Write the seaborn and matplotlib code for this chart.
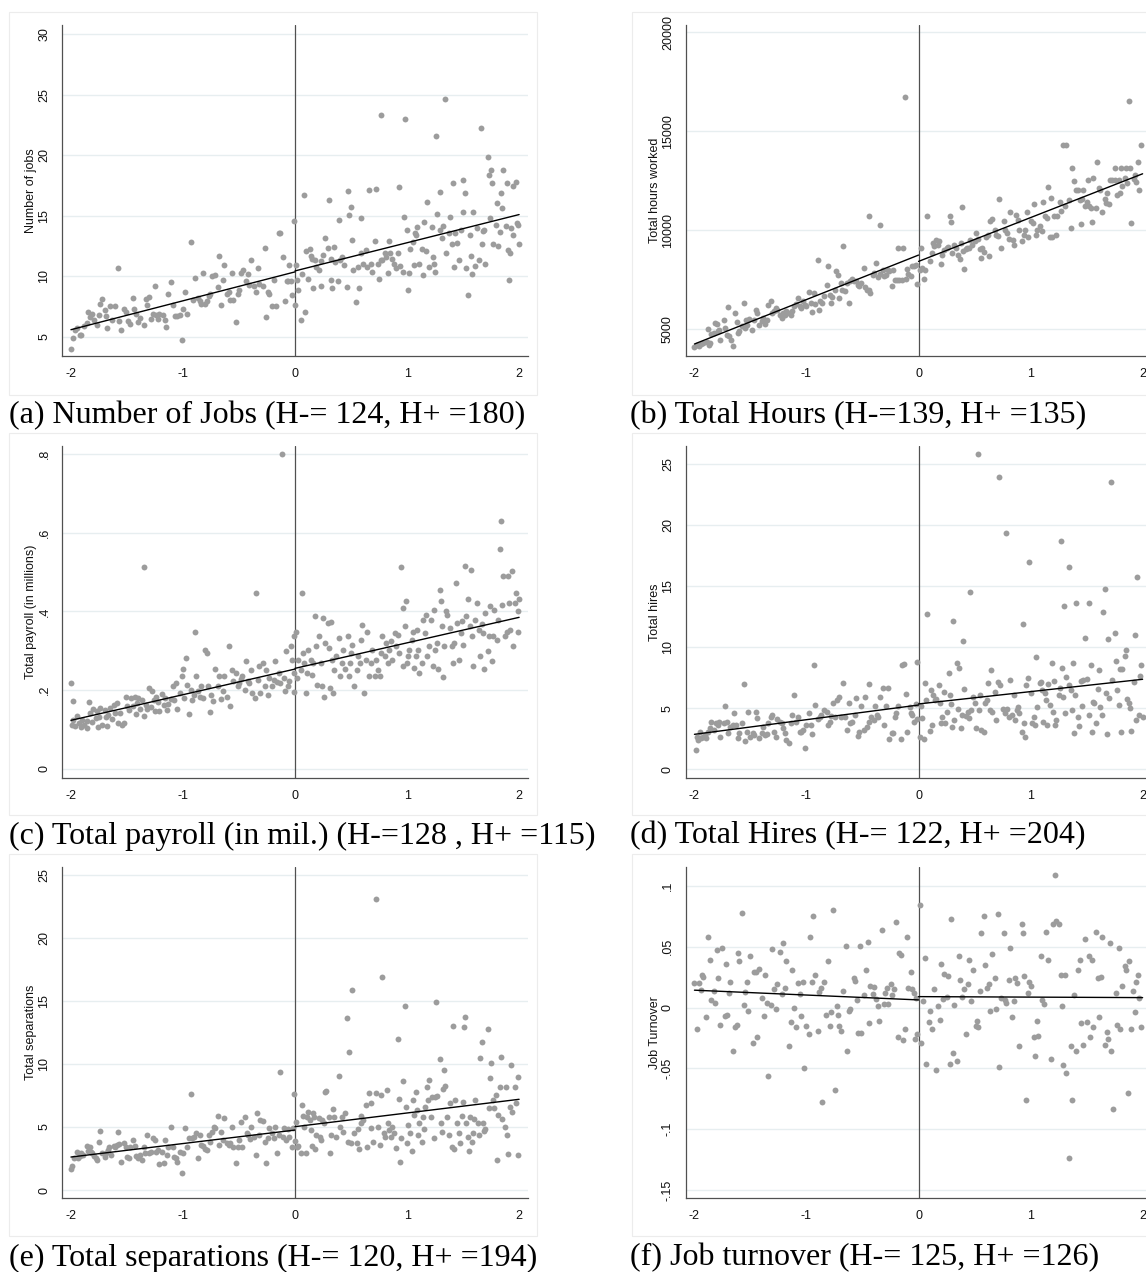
import matplotlib
matplotlib.use("Agg")
import matplotlib.pyplot as plt
from matplotlib.patches import Rectangle
import pandas as pd
import seaborn as sns

# ---------------------------------------------------------------- data
X_TICKS = [-2, -1, 0, 1, 2]
X_TICK_LABELS = ["-2", "-1", "0", "1", "2"]

# (a) Number of jobs: binned means by distance to the threshold
A_PTS = [
    (-2.00, 4.04), (-1.98, 4.95), (-1.96, 5.55), (-1.95, 5.77), (-1.92, 5.14), (-1.91, 5.19), (-1.88, 5.88),
    (-1.86, 6.16), (-1.85, 7.07), (-1.83, 6.65), (-1.81, 6.93), (-1.79, 6.38), (-1.77, 5.96), (-1.75, 6.79),
    (-1.74, 7.75), (-1.72, 8.17), (-1.70, 7.20), (-1.69, 6.71), (-1.68, 5.74), (-1.65, 7.53), (-1.63, 6.38),
    (-1.61, 7.53), (-1.58, 10.65), (-1.57, 6.32), (-1.55, 5.60), (-1.53, 7.34), (-1.51, 7.07), (-1.49, 6.30),
    (-1.47, 6.10), (-1.45, 8.22), (-1.44, 7.34), (-1.42, 6.93), (-1.40, 6.24), (-1.38, 6.60), (-1.35, 5.96),
    (-1.33, 8.17), (-1.32, 7.67), (-1.30, 8.30), (-1.29, 6.52), (-1.27, 6.87), (-1.25, 9.21), (-1.24, 6.79),
    (-1.22, 6.52), (-1.21, 6.93), (-1.18, 6.79), (-1.16, 6.38), (-1.15, 5.83), (-1.13, 8.53), (-1.11, 9.52),
    (-1.09, 7.62), (-1.07, 6.74), (-1.05, 6.74), (-1.03, 6.79), (-1.01, 4.78), (-1.00, 7.34), (-0.98, 8.72),
    (-0.96, 6.93), (-0.93, 12.85), (-0.91, 8.09), (-0.89, 9.88), (-0.87, 8.22), (-0.85, 7.95), (-0.84, 7.75),
    (-0.82, 10.29), (-0.80, 7.75), (-0.79, 7.95), (-0.77, 8.36), (-0.76, 8.58), (-0.74, 10.04), (-0.71, 10.15),
    (-0.69, 9.13), (-0.68, 11.67), (-0.66, 7.62), (-0.64, 9.74), (-0.63, 10.92), (-0.61, 8.58), (-0.59, 8.69),
    (-0.58, 8.03), (-0.56, 10.29), (-0.55, 8.03), (-0.53, 6.24), (-0.51, 8.58), (-0.50, 8.91), (-0.48, 10.29),
    (-0.46, 10.51), (-0.44, 9.60), (-0.42, 10.23), (-0.41, 9.27), (-0.39, 11.34), (-0.37, 9.19), (-0.35, 8.72),
    (-0.33, 10.70), (-0.32, 9.41), (-0.29, 9.19), (-0.27, 12.38), (-0.26, 6.65), (-0.24, 8.72), (-0.23, 8.53),
    (-0.21, 7.53), (-0.19, 9.68), (-0.17, 7.53), (-0.14, 13.60), (-0.13, 13.54), (-0.11, 11.56), (-0.09, 7.95),
    (-0.07, 9.63), (-0.06, 9.60), (-0.05, 10.92), (-0.04, 9.60), (-0.03, 8.44), (-0.01, 14.59),
    (0.00, 7.67), (0.01, 10.92), (0.02, 9.74), (0.03, 8.86), (0.05, 6.43), (0.06, 10.23), (0.08, 16.71),
    (0.09, 7.07), (0.10, 12.11), (0.12, 9.82), (0.13, 12.22), (0.14, 11.67), (0.15, 11.47), (0.16, 9.00),
    (0.18, 11.34), (0.19, 10.79), (0.21, 10.51), (0.23, 9.19), (0.23, 11.28), (0.25, 11.75), (0.27, 13.13),
    (0.29, 12.30), (0.30, 16.29), (0.32, 11.47), (0.32, 9.74), (0.33, 9.00), (0.35, 12.44), (0.36, 11.20),
    (0.38, 9.63), (0.39, 14.64), (0.40, 11.34), (0.42, 11.61), (0.44, 10.92), (0.46, 9.13), (0.47, 17.07),
    (0.48, 15.06), (0.50, 15.69), (0.51, 12.99), (0.52, 10.56), (0.54, 7.89), (0.56, 10.79), (0.57, 9.08),
    (0.59, 11.89), (0.59, 14.78), (0.61, 11.06), (0.63, 12.16), (0.64, 10.79), (0.66, 17.12), (0.68, 11.06),
    (0.69, 10.37), (0.71, 12.93), (0.72, 17.18), (0.74, 11.06), (0.75, 9.82), (0.77, 11.34), (0.77, 23.32),
    (0.78, 11.34), (0.80, 11.89), (0.81, 11.61), (0.83, 10.29), (0.84, 12.91), (0.85, 11.89), (0.87, 11.47),
    (0.88, 11.06), (0.90, 10.65), (0.92, 11.89), (0.93, 17.40), (0.94, 10.84), (0.96, 10.37), (0.97, 14.92),
    (0.98, 22.96), (1.00, 13.82), (1.01, 8.86), (1.02, 10.29), (1.03, 12.22), (1.05, 12.85), (1.06, 10.92),
    (1.07, 13.54), (1.08, 13.40), (1.09, 14.09), (1.11, 11.06), (1.13, 12.25), (1.14, 10.15), (1.15, 14.50),
    (1.17, 12.08), (1.18, 16.10), (1.20, 10.79), (1.22, 14.09), (1.23, 11.61), (1.24, 11.06), (1.25, 10.37),
    (1.26, 21.58), (1.27, 15.14), (1.29, 13.82), (1.29, 16.93), (1.31, 13.13), (1.32, 14.15), (1.34, 24.61),
    (1.35, 11.89), (1.37, 13.54), (1.38, 14.92), (1.40, 12.71), (1.41, 17.73), (1.42, 10.79), (1.43, 13.60),
    (1.45, 12.77), (1.46, 11.34), (1.48, 13.82), (1.50, 17.95), (1.50, 15.33), (1.52, 16.85), (1.53, 10.65),
    (1.54, 8.44), (1.56, 13.40), (1.57, 11.67), (1.58, 10.23), (1.59, 15.33), (1.61, 10.84), (1.62, 13.95),
    (1.64, 11.39), (1.66, 22.22), (1.67, 12.71), (1.68, 13.76), (1.69, 13.82), (1.70, 11.06), (1.72, 19.88),
    (1.73, 18.36), (1.74, 14.78), (1.75, 18.77), (1.76, 17.67), (1.77, 12.71), (1.79, 14.23), (1.80, 16.07),
    (1.81, 12.49), (1.83, 13.68), (1.84, 16.85), (1.85, 15.61), (1.86, 18.77), (1.88, 14.15), (1.89, 17.73),
    (1.90, 12.16), (1.91, 9.74), (1.92, 11.89), (1.93, 13.95), (1.95, 17.45), (1.95, 13.40), (1.97, 17.81),
    (1.98, 14.42), (1.99, 14.23), (2.00, 12.71),
]
A_FIT_LEFT = [5.60, 10.37]
A_FIT_RIGHT = [10.45, 15.10]
A_YTICKS = [5, 10, 15, 20, 25, 30]
A_YTICK_LABELS = ["5", "10", "15", "20", "25", "30"]

# (b) Total hours worked
B_PTS = [
    (-2.00, 4090), (-1.98, 4210), (-1.96, 4120), (-1.94, 4260), (-1.92, 4290), (-1.89, 4330), (-1.87, 4210),
    (-1.86, 4290), (-1.88, 5020), (-1.85, 4760), (-1.83, 4800), (-1.82, 5300), (-1.80, 5270), (-1.79, 4880),
    (-1.78, 4970), (-1.77, 4460), (-1.74, 5440), (-1.73, 5050), (-1.71, 4710), (-1.70, 6110), (-1.69, 4660),
    (-1.67, 4460), (-1.66, 4120), (-1.64, 5810), (-1.62, 5340), (-1.61, 4800), (-1.60, 4880), (-1.58, 5140),
    (-1.56, 6320), (-1.55, 5050), (-1.54, 5470), (-1.53, 5220), (-1.51, 5510), (-1.49, 4970), (-1.47, 5440),
    (-1.45, 5980), (-1.44, 5810), (-1.42, 5220), (-1.40, 5390), (-1.39, 5560), (-1.37, 5270), (-1.35, 5470),
    (-1.34, 6230), (-1.32, 6400), (-1.31, 5810), (-1.29, 5890), (-1.27, 6060), (-1.26, 5980), (-1.24, 5730),
    (-1.22, 5560), (-1.21, 5810), (-1.19, 5730), (-1.18, 5890), (-1.16, 5810), (-1.14, 5730), (-1.13, 5890),
    (-1.11, 6150), (-1.09, 6280), (-1.08, 6570), (-1.06, 6150), (-1.05, 6060), (-1.03, 6400), (-1.01, 6230),
    (-1.00, 6150), (-0.98, 6860), (-0.96, 6320), (-0.95, 5840), (-0.93, 6820), (-0.92, 6270), (-0.90, 8510),
    (-0.89, 5980), (-0.88, 6400), (-0.86, 6320), (-0.84, 6650), (-0.82, 7240), (-0.81, 8170), (-0.79, 6740),
    (-0.78, 6320), (-0.77, 6620), (-0.75, 6960), (-0.74, 7920), (-0.72, 7750), (-0.71, 6570), (-0.69, 7330),
    (-0.68, 6990), (-0.67, 9180), (-0.66, 6910), (-0.64, 7330), (-0.62, 6320), (-0.61, 7410), (-0.59, 7530),
    (-0.58, 7410), (-0.56, 7410), (-0.54, 7240), (-0.53, 7160), (-0.51, 7330), (-0.49, 8090), (-0.48, 7120),
    (-0.46, 6990), (-0.44, 6990), (-0.44, 10730), (-0.43, 6820), (-0.41, 7750), (-0.40, 7830), (-0.38, 8340),
    (-0.36, 7630), (-0.34, 7800), (-0.34, 10280), (-0.32, 7970), (-0.31, 7700), (-0.29, 7750), (-0.27, 7970),
    (-0.26, 7920), (-0.24, 7190), (-0.23, 8000), (-0.21, 7460), (-0.19, 7500), (-0.18, 9100), (-0.17, 7460),
    (-0.15, 7500), (-0.14, 9100), (-0.12, 16720), (-0.11, 7530), (-0.10, 8040), (-0.09, 7800), (-0.07, 7700),
    (-0.06, 8170), (-0.04, 8200), (-0.02, 8250), (-0.01, 7290),
    (0.01, 7970), (0.02, 9100), (0.03, 8090), (0.05, 7530), (0.06, 8000), (0.08, 10700), (0.10, 8420),
    (0.12, 8840), (0.13, 9350), (0.14, 9180), (0.16, 9490), (0.17, 9270), (0.18, 9430), (0.20, 8310),
    (0.21, 8760), (0.23, 9010), (0.25, 9100), (0.26, 9150), (0.28, 10700), (0.29, 10400), (0.30, 8840),
    (0.32, 9270), (0.33, 9100), (0.35, 8760), (0.37, 8540), (0.38, 9350), (0.39, 11170), (0.40, 8930),
    (0.41, 8040), (0.42, 9050), (0.43, 9100), (0.45, 9100), (0.46, 9520), (0.48, 9270), (0.50, 9430),
    (0.51, 9860), (0.53, 9550), (0.55, 9050), (0.56, 8590), (0.57, 9100), (0.58, 8880), (0.60, 9650),
    (0.62, 9770), (0.63, 8680), (0.64, 10450), (0.66, 10560), (0.68, 10020), (0.69, 9770), (0.71, 9690),
    (0.72, 11580), (0.74, 9100), (0.76, 10450), (0.77, 10020), (0.79, 9860), (0.81, 9550), (0.82, 10900),
    (0.84, 9520), (0.85, 9270), (0.87, 10780), (0.89, 10530), (0.90, 10020), (0.92, 9430), (0.94, 9770),
    (0.95, 10020), (0.97, 10900), (0.98, 9650), (1.00, 10450), (1.02, 10360), (1.03, 11340), (1.05, 9770),
    (1.06, 10020), (1.08, 10190), (1.10, 9940), (1.11, 11410), (1.13, 10700), (1.15, 10610), (1.16, 12170),
    (1.17, 9650), (1.18, 11630), (1.19, 9650), (1.21, 10730), (1.23, 9770), (1.24, 10700), (1.26, 11410),
    (1.27, 10950), (1.29, 14320), (1.31, 11210), (1.32, 14320), (1.34, 11540), (1.36, 10110), (1.37, 13140),
    (1.39, 12470), (1.41, 12010), (1.42, 12010), (1.44, 11540), (1.45, 10330), (1.46, 11580), (1.47, 12010),
    (1.49, 11210), (1.50, 11410), (1.51, 12550), (1.52, 11210), (1.54, 11120), (1.55, 10400), (1.56, 12640),
    (1.58, 11120), (1.59, 13430), (1.61, 12130), (1.62, 12050), (1.64, 10900), (1.66, 11580), (1.67, 11370),
    (1.68, 11880), (1.70, 11340), (1.71, 12550), (1.73, 12520), (1.75, 13140), (1.75, 12550), (1.77, 11800),
    (1.79, 12550), (1.80, 11880), (1.81, 13140), (1.82, 12220), (1.84, 12640), (1.85, 13140), (1.86, 12390),
    (1.88, 16520), (1.89, 13140), (1.90, 10360), (1.92, 12590), (1.93, 12810), (1.94, 12420), (1.96, 13430),
    (1.97, 12010), (1.99, 14320),
]
B_FIT_LEFT = [4242, 8738]
B_FIT_RIGHT = [8418, 12848]
B_YTICKS = [5000, 10000, 15000, 20000]
B_YTICK_LABELS = ["5000", "10000", "15000", "20000"]

# (c) Total payroll, millions
C_PTS = [
    (-2.00, 0.218), (-1.98, 0.172), (-1.99, 0.112), (-1.98, 0.125), (-1.96, 0.110), (-1.95, 0.134),
    (-1.93, 0.117), (-1.91, 0.106), (-1.90, 0.125), (-1.88, 0.112), (-1.86, 0.104), (-1.86, 0.121),
    (-1.84, 0.169), (-1.83, 0.142), (-1.81, 0.119), (-1.80, 0.152), (-1.78, 0.129), (-1.77, 0.148),
    (-1.76, 0.106), (-1.75, 0.131), (-1.74, 0.155), (-1.72, 0.112), (-1.70, 0.150), (-1.69, 0.131),
    (-1.68, 0.108), (-1.67, 0.138), (-1.65, 0.155), (-1.63, 0.127), (-1.62, 0.163), (-1.61, 0.142),
    (-1.59, 0.167), (-1.58, 0.117), (-1.56, 0.142), (-1.54, 0.112), (-1.53, 0.117), (-1.51, 0.182),
    (-1.50, 0.161), (-1.48, 0.150), (-1.46, 0.180), (-1.45, 0.159), (-1.43, 0.184), (-1.42, 0.140),
    (-1.41, 0.167), (-1.40, 0.180), (-1.38, 0.152), (-1.37, 0.176), (-1.35, 0.512), (-1.35, 0.135),
    (-1.33, 0.163), (-1.32, 0.152), (-1.30, 0.205), (-1.29, 0.157), (-1.28, 0.197), (-1.26, 0.174),
    (-1.25, 0.146), (-1.24, 0.184), (-1.22, 0.169), (-1.21, 0.146), (-1.19, 0.191), (-1.17, 0.163),
    (-1.16, 0.180), (-1.14, 0.150), (-1.13, 0.165), (-1.11, 0.178), (-1.09, 0.210), (-1.08, 0.174),
    (-1.06, 0.218), (-1.05, 0.152), (-1.03, 0.193), (-1.01, 0.235), (-1.00, 0.255), (-0.99, 0.180),
    (-0.97, 0.283), (-0.96, 0.214), (-0.95, 0.140), (-0.93, 0.201), (-0.92, 0.174), (-0.90, 0.189),
    (-0.89, 0.347), (-0.88, 0.235), (-0.87, 0.197), (-0.85, 0.184), (-0.84, 0.210), (-0.82, 0.180),
    (-0.80, 0.303), (-0.79, 0.294), (-0.78, 0.210), (-0.76, 0.144), (-0.75, 0.189), (-0.73, 0.172),
    (-0.71, 0.255), (-0.69, 0.210), (-0.68, 0.235), (-0.66, 0.178), (-0.64, 0.197), (-0.63, 0.235),
    (-0.61, 0.184), (-0.59, 0.313), (-0.58, 0.159), (-0.56, 0.252), (-0.55, 0.223), (-0.53, 0.244),
    (-0.51, 0.210), (-0.50, 0.218), (-0.48, 0.228), (-0.47, 0.235), (-0.45, 0.201), (-0.44, 0.275),
    (-0.42, 0.223), (-0.41, 0.218), (-0.39, 0.252), (-0.38, 0.193), (-0.36, 0.180), (-0.35, 0.447),
    (-0.33, 0.227), (-0.32, 0.261), (-0.31, 0.193), (-0.29, 0.269), (-0.27, 0.210), (-0.26, 0.252),
    (-0.24, 0.189), (-0.23, 0.231), (-0.21, 0.210), (-0.19, 0.227), (-0.18, 0.273), (-0.16, 0.220),
    (-0.14, 0.244), (-0.13, 0.218), (-0.12, 0.800), (-0.10, 0.231), (-0.09, 0.197), (-0.08, 0.299),
    (-0.06, 0.210), (-0.05, 0.223), (-0.04, 0.311), (-0.03, 0.277), (-0.01, 0.195), (-0.01, 0.244),
    (-0.01, 0.337),
    (0.01, 0.347), (0.02, 0.231), (0.03, 0.277), (0.05, 0.252), (0.06, 0.448), (0.07, 0.294), (0.08, 0.269),
    (0.10, 0.193), (0.11, 0.244), (0.12, 0.303), (0.14, 0.277), (0.15, 0.239), (0.16, 0.269), (0.18, 0.389),
    (0.19, 0.313), (0.20, 0.214), (0.21, 0.337), (0.23, 0.269), (0.24, 0.210), (0.25, 0.383), (0.26, 0.184),
    (0.27, 0.320), (0.29, 0.371), (0.30, 0.307), (0.31, 0.206), (0.32, 0.372), (0.33, 0.277), (0.34, 0.193),
    (0.35, 0.252), (0.37, 0.286), (0.39, 0.332), (0.40, 0.235), (0.42, 0.269), (0.43, 0.303), (0.45, 0.254),
    (0.47, 0.337), (0.48, 0.235), (0.49, 0.269), (0.50, 0.294), (0.51, 0.316), (0.53, 0.210), (0.55, 0.252),
    (0.56, 0.286), (0.58, 0.269), (0.59, 0.328), (0.60, 0.366), (0.62, 0.193), (0.63, 0.277), (0.64, 0.349),
    (0.66, 0.235), (0.68, 0.269), (0.69, 0.303), (0.71, 0.235), (0.72, 0.277), (0.74, 0.252), (0.76, 0.235),
    (0.77, 0.294), (0.78, 0.337), (0.80, 0.286), (0.81, 0.320), (0.83, 0.269), (0.84, 0.303), (0.86, 0.324),
    (0.87, 0.277), (0.89, 0.344), (0.90, 0.311), (0.92, 0.341), (0.93, 0.294), (0.95, 0.512), (0.96, 0.409),
    (0.96, 0.261), (0.98, 0.362), (0.99, 0.426), (1.00, 0.269), (1.01, 0.286), (1.02, 0.303), (1.04, 0.328),
    (1.05, 0.349), (1.06, 0.256), (1.08, 0.286), (1.09, 0.354), (1.10, 0.303), (1.11, 0.244), (1.13, 0.269),
    (1.14, 0.379), (1.16, 0.345), (1.17, 0.392), (1.18, 0.286), (1.20, 0.311), (1.21, 0.379), (1.23, 0.261),
    (1.24, 0.404), (1.25, 0.303), (1.27, 0.320), (1.28, 0.254), (1.29, 0.455), (1.30, 0.426), (1.31, 0.362),
    (1.32, 0.233), (1.33, 0.311), (1.35, 0.400), (1.36, 0.392), (1.38, 0.358), (1.40, 0.311), (1.41, 0.269),
    (1.42, 0.320), (1.44, 0.472), (1.45, 0.371), (1.46, 0.277), (1.48, 0.345), (1.49, 0.375), (1.50, 0.316),
    (1.52, 0.516), (1.53, 0.388), (1.54, 0.431), (1.56, 0.362), (1.57, 0.506), (1.58, 0.337), (1.59, 0.261),
    (1.61, 0.379), (1.62, 0.421), (1.64, 0.354), (1.65, 0.286), (1.67, 0.367), (1.68, 0.345), (1.69, 0.254),
    (1.70, 0.396), (1.72, 0.299), (1.73, 0.337), (1.74, 0.413), (1.76, 0.273), (1.77, 0.337), (1.78, 0.404),
    (1.80, 0.328), (1.81, 0.379), (1.83, 0.558), (1.84, 0.630), (1.85, 0.417), (1.86, 0.489), (1.87, 0.337),
    (1.89, 0.349), (1.90, 0.489), (1.91, 0.421), (1.92, 0.354), (1.94, 0.502), (1.95, 0.311), (1.96, 0.421),
    (1.97, 0.447), (1.99, 0.400), (1.99, 0.349), (2.00, 0.431),
]
C_FIT_LEFT = [0.1235, 0.2537]
C_FIT_RIGHT = [0.2555, 0.3850]
C_YTICKS = [0, 0.2, 0.4, 0.6, 0.8]
C_YTICK_LABELS = ["0", ".2", ".4", ".6", ".8"]

# (d) Total hires
D_PTS = [
    (-1.99, 1.58), (-1.98, 2.68), (-1.97, 2.40), (-1.95, 3.09), (-1.94, 2.54), (-1.92, 2.68), (-1.91, 2.81),
    (-1.90, 2.54), (-1.88, 3.09), (-1.86, 3.36), (-1.85, 3.91), (-1.83, 3.22), (-1.81, 3.77), (-1.79, 3.63),
    (-1.78, 3.91), (-1.77, 2.68), (-1.74, 3.77), (-1.73, 5.19), (-1.71, 3.91), (-1.70, 3.01), (-1.68, 3.50),
    (-1.66, 3.63), (-1.65, 4.59), (-1.63, 3.63), (-1.61, 2.54), (-1.60, 2.95), (-1.58, 3.77), (-1.56, 6.97),
    (-1.55, 2.35), (-1.53, 3.09), (-1.52, 4.73), (-1.50, 2.68), (-1.48, 2.95), (-1.47, 2.81), (-1.45, 4.73),
    (-1.44, 4.18), (-1.42, 2.54), (-1.40, 2.95), (-1.39, 3.50), (-1.37, 2.81), (-1.35, 2.90), (-1.34, 3.77),
    (-1.32, 4.26), (-1.31, 4.45), (-1.29, 3.09), (-1.27, 2.68), (-1.26, 4.10), (-1.24, 3.91), (-1.22, 3.77),
    (-1.21, 3.36), (-1.19, 2.95), (-1.18, 2.40), (-1.16, 2.19), (-1.14, 3.77), (-1.13, 4.45), (-1.11, 6.09),
    (-1.09, 3.91), (-1.08, 4.26), (-1.06, 3.09), (-1.05, 3.09), (-1.03, 3.22), (-1.01, 1.72), (-1.00, 3.63),
    (-0.98, 4.59), (-0.96, 3.63), (-0.95, 2.90), (-0.93, 8.55), (-0.92, 5.27), (-0.90, 4.10), (-0.88, 4.32),
    (-0.87, 4.45), (-0.84, 4.86), (-0.82, 4.73), (-0.81, 3.63), (-0.79, 3.91), (-0.78, 4.37), (-0.76, 5.41),
    (-0.75, 4.32), (-0.73, 5.68), (-0.71, 5.96), (-0.69, 4.32), (-0.67, 7.10), (-0.66, 4.32), (-0.64, 3.22),
    (-0.62, 5.41), (-0.61, 3.77), (-0.59, 3.91), (-0.57, 4.45), (-0.56, 5.82), (-0.54, 2.73), (-0.53, 3.09),
    (-0.51, 5.19), (-0.49, 3.22), (-0.48, 5.96), (-0.46, 3.50), (-0.44, 3.91), (-0.44, 7.00), (-0.42, 4.32),
    (-0.40, 4.04), (-0.39, 5.19), (-0.37, 4.45), (-0.36, 4.26), (-0.34, 5.96), (-0.32, 6.64), (-0.31, 3.63),
    (-0.29, 5.19), (-0.27, 6.64), (-0.26, 2.46), (-0.24, 2.95), (-0.23, 2.95), (-0.21, 4.26), (-0.20, 4.59),
    (-0.18, 5.19), (-0.16, 2.46), (-0.15, 8.55), (-0.13, 8.63), (-0.11, 6.17), (-0.10, 3.09), (-0.08, 5.14),
    (-0.07, 4.64), (-0.06, 4.45), (-0.04, 3.91), (-0.02, 5.36), (-0.01, 8.83), (-0.01, 4.10),
    (0.01, 2.68), (0.02, 5.19), (0.03, 4.18), (0.05, 2.46), (0.06, 7.05), (0.07, 5.68), (0.08, 12.73),
    (0.10, 3.17), (0.11, 6.50), (0.12, 3.63), (0.13, 6.09), (0.15, 5.68), (0.16, 5.74), (0.18, 6.91),
    (0.19, 5.41), (0.20, 3.77), (0.21, 4.32), (0.23, 6.37), (0.24, 3.77), (0.25, 4.73), (0.27, 7.92),
    (0.28, 6.09), (0.29, 5.36), (0.30, 3.50), (0.31, 12.19), (0.32, 4.04), (0.34, 8.69), (0.35, 4.92),
    (0.36, 8.28), (0.38, 3.36), (0.39, 4.45), (0.40, 10.55), (0.41, 6.56), (0.42, 4.37), (0.44, 4.73),
    (0.45, 4.18), (0.46, 14.51), (0.47, 4.86), (0.49, 5.96), (0.50, 5.41), (0.51, 3.36), (0.53, 25.85),
    (0.54, 4.86), (0.55, 6.09), (0.56, 3.22), (0.58, 3.09), (0.59, 5.41), (0.61, 5.68), (0.62, 7.05),
    (0.64, 4.86), (0.65, 8.14), (0.66, 4.73), (0.68, 6.37), (0.69, 4.04), (0.71, 7.19), (0.72, 23.93),
    (0.73, 6.91), (0.75, 4.92), (0.77, 4.59), (0.78, 19.34), (0.79, 4.92), (0.81, 4.32), (0.82, 7.32),
    (0.83, 4.45), (0.85, 6.09), (0.86, 4.04), (0.88, 4.86), (0.89, 5.14), (0.90, 4.59), (0.92, 3.09),
    (0.93, 11.91), (0.94, 3.77), (0.95, 2.62), (0.96, 6.91), (0.98, 7.46), (0.99, 16.99), (1.00, 6.23),
    (1.01, 3.77), (1.03, 4.32), (1.04, 3.63), (1.05, 9.18), (1.06, 5.14), (1.08, 7.05), (1.09, 7.19),
    (1.10, 6.50), (1.11, 3.91), (1.13, 6.23), (1.14, 5.68), (1.15, 3.63), (1.16, 7.00), (1.17, 5.27),
    (1.19, 8.69), (1.20, 4.73), (1.21, 7.27), (1.22, 3.63), (1.23, 4.04), (1.25, 6.09), (1.26, 6.64),
    (1.27, 18.72), (1.28, 8.28), (1.29, 5.96), (1.30, 13.42), (1.31, 4.64), (1.32, 7.54), (1.34, 16.56),
    (1.34, 6.91), (1.36, 6.50), (1.37, 4.86), (1.38, 8.69), (1.39, 3.01), (1.40, 6.09), (1.41, 13.66),
    (1.42, 4.32), (1.43, 3.55), (1.45, 7.27), (1.46, 5.19), (1.47, 7.32), (1.49, 10.74), (1.50, 7.38),
    (1.52, 13.66), (1.52, 4.45), (1.54, 8.55), (1.55, 3.09), (1.56, 5.55), (1.57, 5.46), (1.58, 3.77),
    (1.60, 6.56), (1.61, 8.14), (1.62, 5.14), (1.64, 4.45), (1.65, 12.92), (1.66, 14.75), (1.67, 6.23),
    (1.68, 2.90), (1.69, 10.66), (1.70, 5.82), (1.72, 23.58), (1.73, 7.32), (1.75, 11.15), (1.76, 8.88),
    (1.77, 6.50), (1.79, 5.27), (1.80, 8.20), (1.81, 3.09), (1.82, 8.20), (1.84, 9.29), (1.85, 9.78),
    (1.86, 5.74), (1.88, 5.46), (1.89, 5.00), (1.90, 3.17), (1.92, 7.19), (1.93, 11.01), (1.94, 4.04),
    (1.95, 15.74), (1.97, 4.45), (1.98, 7.65), (1.99, 8.55), (2.00, 4.32),
]
D_FIT_LEFT = [2.87, 5.27]
D_FIT_RIGHT = [5.36, 7.38]
D_YTICKS = [0, 5, 10, 15, 20, 25]
D_YTICK_LABELS = ["0", "5", "10", "15", "20", "25"]

# (e) Total separations
E_PTS = [
    (-2.00, 1.64), (-1.99, 1.90), (-1.97, 2.51), (-1.95, 3.04), (-1.94, 2.51), (-1.92, 2.70), (-1.91, 2.91),
    (-1.89, 2.78), (-1.86, 3.49), (-1.85, 3.12), (-1.83, 3.44), (-1.82, 3.04), (-1.81, 2.91), (-1.79, 2.70),
    (-1.78, 2.51), (-1.77, 2.38), (-1.75, 3.84), (-1.74, 4.71), (-1.72, 2.91), (-1.70, 2.59), (-1.69, 2.96),
    (-1.67, 3.17), (-1.66, 3.39), (-1.64, 2.78), (-1.62, 3.49), (-1.61, 3.44), (-1.59, 3.57), (-1.58, 4.63),
    (-1.57, 3.65), (-1.55, 2.25), (-1.53, 3.70), (-1.51, 3.39), (-1.50, 2.65), (-1.48, 2.51), (-1.47, 3.44),
    (-1.45, 3.97), (-1.43, 3.49), (-1.42, 2.70), (-1.40, 2.51), (-1.38, 2.78), (-1.37, 2.38), (-1.35, 3.39),
    (-1.34, 2.96), (-1.32, 4.37), (-1.30, 2.91), (-1.29, 3.04), (-1.27, 4.10), (-1.25, 3.97), (-1.24, 3.04),
    (-1.22, 3.17), (-1.21, 2.06), (-1.19, 3.04), (-1.17, 2.12), (-1.16, 3.97), (-1.14, 2.78), (-1.13, 3.44),
    (-1.11, 5.03), (-1.09, 3.39), (-1.08, 2.65), (-1.06, 2.51), (-1.05, 2.25), (-1.03, 3.04), (-1.01, 1.38),
    (-1.00, 2.91), (-0.98, 4.89), (-0.96, 3.44), (-0.95, 4.10), (-0.93, 7.62), (-0.92, 4.10), (-0.90, 4.18),
    (-0.88, 4.55), (-0.87, 2.51), (-0.85, 4.37), (-0.84, 3.57), (-0.82, 3.49), (-0.80, 3.23), (-0.79, 3.17),
    (-0.77, 4.37), (-0.76, 3.84), (-0.74, 4.63), (-0.72, 5.03), (-0.71, 4.89), (-0.69, 5.87), (-0.68, 3.57),
    (-0.66, 4.63), (-0.64, 3.97), (-0.63, 5.69), (-0.61, 3.76), (-0.59, 3.57), (-0.58, 3.70), (-0.56, 5.03),
    (-0.55, 3.44), (-0.53, 2.17), (-0.51, 3.44), (-0.50, 3.97), (-0.48, 5.42), (-0.47, 3.44), (-0.45, 5.82),
    (-0.43, 4.50), (-0.42, 4.37), (-0.40, 4.02), (-0.39, 5.03), (-0.37, 4.23), (-0.35, 2.78), (-0.34, 6.14),
    (-0.32, 4.37), (-0.31, 5.56), (-0.29, 5.50), (-0.27, 3.84), (-0.26, 2.17), (-0.24, 4.10), (-0.23, 4.89),
    (-0.21, 4.50), (-0.19, 4.10), (-0.18, 5.03), (-0.16, 2.96), (-0.14, 4.37), (-0.13, 9.34), (-0.11, 4.23),
    (-0.10, 4.89), (-0.08, 3.97), (-0.06, 4.81), (-0.05, 4.23), (-0.03, 3.39), (-0.02, 4.89), (-0.01, 7.62),
    (0.00, 3.92), (0.01, 5.42), (0.02, 3.44), (0.03, 3.49), (0.05, 2.96), (0.06, 6.75), (0.07, 5.87),
    (0.08, 5.03), (0.10, 2.96), (0.11, 5.82), (0.12, 6.22), (0.13, 5.56), (0.14, 4.76), (0.15, 3.49),
    (0.16, 6.08), (0.17, 5.82), (0.18, 3.23), (0.19, 4.37), (0.21, 5.69), (0.22, 4.23), (0.23, 3.97),
    (0.24, 5.56), (0.26, 5.29), (0.27, 7.80), (0.28, 7.88), (0.30, 5.82), (0.31, 2.96), (0.32, 4.37),
    (0.34, 6.40), (0.35, 5.82), (0.37, 4.23), (0.39, 9.05), (0.40, 5.03), (0.42, 5.82), (0.43, 4.63),
    (0.45, 6.08), (0.46, 13.62), (0.47, 3.84), (0.48, 10.98), (0.50, 3.70), (0.51, 15.87), (0.53, 4.50),
    (0.55, 3.70), (0.56, 4.81), (0.57, 3.23), (0.59, 5.29), (0.59, 5.87), (0.61, 5.56), (0.63, 6.75),
    (0.64, 3.44), (0.66, 7.72), (0.68, 4.89), (0.68, 6.88), (0.70, 3.84), (0.72, 23.07), (0.72, 7.67),
    (0.74, 5.03), (0.76, 3.57), (0.77, 7.54), (0.78, 16.88), (0.79, 4.50), (0.80, 4.23), (0.82, 7.94),
    (0.83, 5.29), (0.84, 4.76), (0.86, 4.23), (0.87, 5.03), (0.88, 4.50), (0.90, 3.31), (0.92, 11.98),
    (0.93, 7.20), (0.94, 2.25), (0.95, 4.10), (0.96, 8.68), (0.98, 14.63), (0.99, 6.56), (1.00, 3.70),
    (1.01, 5.16), (1.03, 4.50), (1.04, 3.12), (1.05, 7.14), (1.06, 5.95), (1.08, 7.80), (1.09, 6.35),
    (1.10, 4.37), (1.11, 5.29), (1.13, 3.84), (1.14, 5.82), (1.15, 4.81), (1.16, 6.61), (1.18, 8.20),
    (1.19, 7.14), (1.20, 8.73), (1.21, 5.77), (1.22, 7.41), (1.24, 4.10), (1.25, 7.35), (1.26, 14.89),
    (1.27, 7.46), (1.29, 10.37), (1.30, 5.29), (1.31, 4.63), (1.32, 7.99), (1.33, 9.52), (1.34, 8.25),
    (1.36, 5.82), (1.37, 4.37), (1.38, 6.88), (1.40, 3.44), (1.41, 13.02), (1.42, 3.23), (1.43, 7.14),
    (1.45, 5.29), (1.46, 4.50), (1.47, 3.76), (1.49, 5.87), (1.50, 7.01), (1.51, 12.96), (1.52, 13.76),
    (1.53, 5.29), (1.54, 4.23), (1.55, 3.12), (1.56, 5.82), (1.58, 3.84), (1.59, 4.50), (1.60, 5.61),
    (1.61, 7.14), (1.63, 5.29), (1.64, 4.37), (1.65, 10.45), (1.67, 11.77), (1.68, 5.29), (1.69, 4.71),
    (1.70, 4.81), (1.72, 12.75), (1.73, 6.48), (1.74, 8.86), (1.75, 10.05), (1.77, 7.14), (1.78, 6.48),
    (1.79, 7.54), (1.80, 2.38), (1.81, 5.95), (1.83, 8.20), (1.84, 10.53), (1.85, 5.61), (1.87, 5.03),
    (1.88, 8.15), (1.89, 4.37), (1.90, 2.86), (1.92, 6.61), (1.93, 9.92), (1.94, 6.22), (1.96, 8.15),
    (1.97, 6.88), (1.99, 8.94), (1.99, 2.78),
]
E_FIT_LEFT = [2.62, 4.76]
E_FIT_RIGHT = [5.03, 7.20]
E_YTICKS = [0, 5, 10, 15, 20, 25]
E_YTICK_LABELS = ["0", "5", "10", "15", "20", "25"]

# (f) Job turnover
F_PTS = [
    (-2.00, 0.020), (-1.98, -0.018), (-1.96, 0.020), (-1.94, 0.0145), (-1.93, 0.027), (-1.92, 0.025),
    (-1.90, -0.008), (-1.88, 0.058), (-1.86, 0.039), (-1.85, 0.006), (-1.83, 0.014), (-1.82, 0.004),
    (-1.80, 0.047), (-1.79, 0.024), (-1.77, -0.014), (-1.75, 0.049), (-1.73, -0.007), (-1.72, 0.036),
    (-1.71, -0.006), (-1.69, 0.012), (-1.68, 0.021), (-1.66, -0.036), (-1.64, -0.016), (-1.62, -0.014),
    (-1.61, 0.045), (-1.60, 0.038), (-1.58, 0.078), (-1.56, 0.002), (-1.55, 0.013), (-1.53, 0.021),
    (-1.52, -0.003), (-1.50, 0.042), (-1.48, -0.029), (-1.47, 0.029), (-1.45, 0.029), (-1.44, -0.024),
    (-1.42, 0.032), (-1.40, 0.008), (-1.38, -0.007), (-1.37, 0.027), (-1.35, 0.004), (-1.34, -0.056),
    (-1.32, 0.002), (-1.31, 0.048), (-1.29, 0.015), (-1.27, -0.001), (-1.26, 0.019), (-1.24, 0.046),
    (-1.22, 0.011), (-1.21, 0.053), (-1.19, 0.016), (-1.18, 0.038), (-1.16, -0.032), (-1.14, -0.012),
    (-1.13, 0.031), (-1.11, 0.000), (-1.09, -0.016), (-1.08, 0.020), (-1.06, 0.011), (-1.05, -0.007),
    (-1.03, 0.021), (-1.02, -0.050), (-1.00, -0.015), (-0.98, -0.022), (-0.97, 0.058), (-0.95, 0.021),
    (-0.94, 0.075), (-0.92, 0.027), (-0.90, -0.019), (-0.89, 0.013), (-0.87, 0.016), (-0.86, -0.078),
    (-0.84, 0.021), (-0.83, -0.006), (-0.81, 0.038), (-0.79, -0.015), (-0.78, -0.004), (-0.76, 0.080),
    (-0.75, -0.068), (-0.73, 0.001), (-0.72, -0.006), (-0.71, -0.015), (-0.69, -0.019), (-0.67, 0.014),
    (-0.65, 0.051), (-0.64, -0.036), (-0.62, -0.003), (-0.61, -0.001), (-0.58, 0.024), (-0.57, 0.022),
    (-0.55, 0.006), (-0.54, -0.021), (-0.52, 0.051), (-0.51, -0.021), (-0.49, 0.010), (-0.47, 0.031),
    (-0.45, 0.054), (-0.44, -0.013), (-0.43, 0.018), (-0.41, 0.011), (-0.40, 0.017), (-0.38, 0.007),
    (-0.36, 0.001), (-0.35, -0.011), (-0.33, 0.064), (-0.31, 0.003), (-0.30, 0.012), (-0.28, 0.016),
    (-0.27, 0.003), (-0.25, 0.019), (-0.24, 0.010), (-0.22, 0.015), (-0.20, 0.070), (-0.18, -0.024),
    (-0.17, 0.045), (-0.16, 0.043), (-0.14, -0.027), (-0.12, -0.018), (-0.10, 0.058), (-0.09, 0.016),
    (-0.07, 0.029), (-0.06, 0.015), (-0.04, 0.012), (-0.03, -0.026), (-0.01, -0.022), (-0.02, 0.008),
    (0.01, 0.084), (0.02, -0.029), (0.04, 0.005), (0.06, 0.041), (0.07, -0.046), (0.09, -0.012),
    (0.10, -0.003), (0.12, -0.018), (0.14, 0.015), (0.16, -0.051), (0.17, 0.001), (0.19, -0.010),
    (0.20, 0.036), (0.22, 0.007), (0.23, 0.028), (0.25, 0.009), (0.26, 0.026), (0.28, -0.046),
    (0.29, 0.073), (0.31, -0.037), (0.32, 0.002), (0.34, -0.044), (0.36, 0.042), (0.37, 0.023),
    (0.39, 0.009), (0.41, 0.015), (0.42, -0.022), (0.44, 0.019), (0.45, 0.039), (0.47, 0.005),
    (0.49, 0.031), (0.51, -0.015), (0.52, -0.011), (0.53, -0.016), (0.55, 0.014), (0.56, 0.061),
    (0.58, 0.075), (0.59, 0.035), (0.61, 0.016), (0.63, 0.019), (0.64, -0.003), (0.66, 0.044),
    (0.68, 0.024), (0.69, -0.001), (0.71, 0.077), (0.72, -0.049), (0.74, 0.008), (0.76, 0.061),
    (0.77, 0.006), (0.78, 0.004), (0.81, 0.023), (0.82, 0.049), (0.83, -0.008), (0.85, 0.005),
    (0.86, 0.024), (0.88, 0.020), (0.90, -0.032), (0.92, 0.069), (0.93, 0.061), (0.94, 0.026),
    (0.96, -0.076), (0.98, 0.012), (0.99, 0.021), (1.00, 0.018), (1.03, -0.024), (1.04, -0.040),
    (1.06, -0.011), (1.07, -0.023), (1.09, 0.042), (1.10, 0.006), (1.12, 0.003), (1.14, 0.062),
    (1.16, 0.039), (1.18, -0.042), (1.20, 0.069), (1.22, 0.109), (1.23, 0.071), (1.25, 0.069),
    (1.27, 0.027), (1.28, 0.001), (1.29, -0.047), (1.31, 0.027), (1.32, -0.054), (1.34, -0.124),
    (1.36, -0.032), (1.37, -0.076), (1.39, 0.010), (1.41, -0.036), (1.42, 0.031), (1.44, 0.039),
    (1.45, -0.013), (1.47, -0.031), (1.49, 0.056), (1.50, -0.012), (1.52, 0.042), (1.53, -0.024),
    (1.55, 0.039), (1.56, -0.016), (1.58, 0.062), (1.60, 0.024), (1.61, -0.008), (1.63, 0.025),
    (1.64, 0.058), (1.66, -0.031), (1.68, -0.020), (1.69, -0.026), (1.71, 0.053), (1.72, -0.036),
    (1.74, -0.083), (1.76, 0.012), (1.77, -0.014), (1.79, 0.049), (1.80, -0.018), (1.82, 0.018),
    (1.84, 0.034), (1.85, 0.031), (1.87, -0.070), (1.88, 0.038), (1.90, -0.018), (1.91, 0.014),
    (1.93, -0.004), (1.94, 0.021), (1.96, 0.027), (1.97, 0.008), (1.99, -0.016),
]
F_FIT_LEFT = [0.0143, 0.0063]
F_FIT_RIGHT = [0.0090, 0.0082]
F_YTICKS = [-0.15, -0.1, -0.05, 0, 0.05, 0.1]
F_YTICK_LABELS = ["-.15", "-.1", "-.05", "0", ".05", ".1"]

Y_LABELS = ["Number of jobs", "Total hours worked", "Total payroll (in millions)",
            "Total hires", "Total separations", "Job Turnover"]
CAPTIONS = [
    "(a) Number of Jobs (H-= 124, H+ =180)",
    "(b) Total Hours (H-=139, H+ =135)",
    "(c) Total payroll (in mil.) (H-=128 , H+ =115)",
    "(d) Total Hires (H-= 122, H+ =204)",
    "(e) Total separations (H-= 120, H+ =194)",
    "(f) Job turnover (H-= 125, H+ =126)",
]

# ---------------------------------------------------------------- style
sns.set_style("white")
plt.rcParams["font.family"] = ["Liberation Sans", "DejaVu Sans"]
SERIF = ["Liberation Serif", "DejaVu Serif"]

DOT = "#9c9c9c"
AXIS = "#505050"
GRID = "#e7eef0"
FRAME = "#ececec"

W, H = 1146, 1272
fig = plt.figure(figsize=(W / 100, H / 100), dpi=100)
fig.patch.set_facecolor("white")

# layout in pixels
COL_LEFT = [62.0, 685.5]
AX_W = 465.5
ROWS = [(25, 356), (446, 778), (867, 1198)]
FRAME_X = [(9, 537), (632, 1160)]
FRAME_Y = [(12, 395), (433, 815), (854, 1236)]
CAP_X = [9, 630]
CAP_Y = [416, 836, 1258]
XLIM = (-2.08, 2.075)

panels = [
    (A_PTS, A_FIT_LEFT, A_FIT_RIGHT, A_YTICKS, A_YTICK_LABELS, (3.43, 30.74)),
    (B_PTS, B_FIT_LEFT, B_FIT_RIGHT, B_YTICKS, B_YTICK_LABELS, (3636, 20370)),
    (C_PTS, C_FIT_LEFT, C_FIT_RIGHT, C_YTICKS, C_YTICK_LABELS, (-0.0229, 0.820)),
    (D_PTS, D_FIT_LEFT, D_FIT_RIGHT, D_YTICKS, D_YTICK_LABELS, (-0.71, 26.5)),
    (E_PTS, E_FIT_LEFT, E_FIT_RIGHT, E_YTICKS, E_YTICK_LABELS, (-0.63, 25.63)),
    (F_PTS, F_FIT_LEFT, F_FIT_RIGHT, F_YTICKS, F_YTICK_LABELS, (-0.1566, 0.1156)),
]

for i, (pts, fit_l, fit_r, yt, ytl, ylim) in enumerate(panels):
    row, col = divmod(i, 2)
    top, bot = ROWS[row]

    # light frame around each graph region
    fx0, fx1 = FRAME_X[col]
    fy0, fy1 = FRAME_Y[row]
    fig.add_artist(Rectangle((fx0 / W, 1 - fy1 / H), (fx1 - fx0) / W, (fy1 - fy0) / H,
                             transform=fig.transFigure, fill=False, ec=FRAME, lw=0.8))

    ax = fig.add_axes([COL_LEFT[col] / W, 1 - bot / H, AX_W / W, (bot - top) / H])
    ax.set_facecolor("white")
    df = pd.DataFrame(pts, columns=["x", "y"])

    ax.axvline(0, color=AXIS, lw=0.9, zorder=1.5)
    sns.scatterplot(data=df, x="x", y="y", ax=ax, color=DOT, s=18, linewidth=0,
                    zorder=2, legend=False)
    sns.lineplot(x=[-2, 0], y=fit_l, ax=ax, color="black", lw=1.0, zorder=3)
    sns.lineplot(x=[0, 2], y=fit_r, ax=ax, color="black", lw=1.0, zorder=3)

    ax.set_xlim(*XLIM)
    ax.set_ylim(*ylim)
    ax.set_xticks(X_TICKS)
    ax.set_xticklabels(X_TICK_LABELS)
    ax.set_yticks(yt)
    ax.set_yticklabels(ytl, rotation=90, va="center")
    ax.grid(axis="y", color=GRID, lw=1.0)
    ax.grid(axis="x", visible=False)
    ax.set_axisbelow(True)

    for side in ("top", "right"):
        ax.spines[side].set_visible(False)
    for side in ("left", "bottom"):
        ax.spines[side].set_color(AXIS)
        ax.spines[side].set_linewidth(0.9)

    ax.tick_params(axis="both", length=3.8, width=0.9, color=AXIS, labelsize=9,
                   labelcolor="#111111", pad=4.5, direction="out")
    ax.set_xlabel("")
    ax.set_ylabel(Y_LABELS[i], fontsize=9, color="#111111")
    ax.yaxis.set_label_coords(-25 / AX_W, 0.5)

    fig.text(CAP_X[col] / W, 1 - CAP_Y[row] / H, CAPTIONS[i], family=SERIF,
             fontsize=23, ha="left", va="center", color="black")

fig.savefig("out.png", dpi=100, facecolor="white")
